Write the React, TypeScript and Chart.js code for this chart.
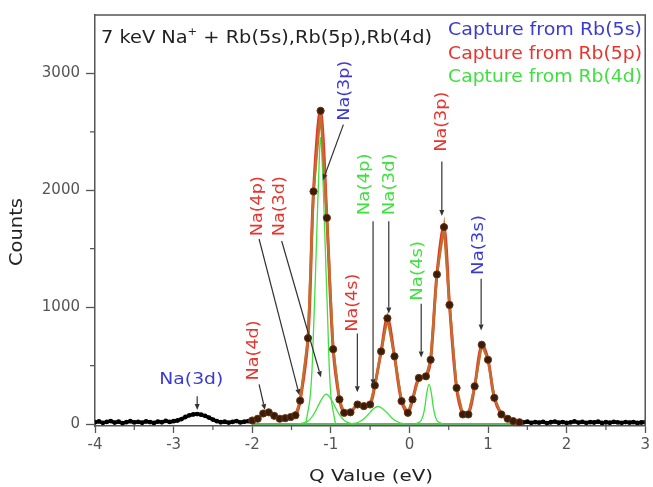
import React, { useEffect, useRef } from 'react';
import { Chart, registerables } from 'chart.js';
Chart.register(...registerables);

// ---- data (Q value in eV, counts) ----
const noiseLeftX = [-4.0, -3.95, -3.9, -3.85, -3.8, -3.75, -3.7, -3.65, -3.6, -3.55, -3.5, -3.45, -3.4, -3.35, -3.3, -3.25, -3.2, -3.15, -3.1, -3.05, -3.0, -2.95, -2.9, -2.85, -2.8, -2.75, -2.7, -2.65, -2.6, -2.55, -2.5, -2.45, -2.4, -2.35, -2.3, -2.25, -2.2, -2.15, -2.1, -2.05];
const noiseLeftY = [15, 22, 10, 18, 25, 12, 20, 8, 16, 24, 14, 19, 11, 22, 17, 9, 21, 15, 26, 18, 24, 30, 42, 60, 74, 82, 85, 80, 70, 55, 38, 24, 15, 20, 12, 18, 25, 14, 20, 24];

const dataX = [-2.0, -1.93, -1.86, -1.79, -1.72, -1.65, -1.58, -1.51, -1.45, -1.39, -1.29, -1.22, -1.13, -1.05, -0.97, -0.89, -0.83, -0.75, -0.66, -0.58, -0.5, -0.44, -0.36, -0.28, -0.19, -0.1, -0.02, 0.04, 0.12, 0.21, 0.27, 0.35, 0.44, 0.51, 0.6, 0.68, 0.75, 0.83, 0.92, 1.0, 1.08, 1.17, 1.25, 1.32, 1.4];
const dataY = [30, 45, 90, 100, 70, 45, 50, 60, 75, 200, 735, 1990, 2680, 1764, 640, 210, 96, 100, 167, 153, 167, 330, 621, 905, 579, 196, 96, 210, 394, 408, 550, 1280, 1685, 1019, 309, 82, 82, 323, 678, 550, 224, 82, 45, 25, 15];

const noiseRightX = [1.45, 1.5, 1.55, 1.6, 1.65, 1.7, 1.75, 1.8, 1.85, 1.9, 1.95, 2.0, 2.05, 2.1, 2.15, 2.2, 2.25, 2.3, 2.35, 2.4, 2.45, 2.5, 2.55, 2.6, 2.65, 2.7, 2.75, 2.8, 2.85, 2.9, 2.95, 3.0];
const noiseRightY = [14, 20, 10, 16, 12, 19, 8, 15, 21, 11, 17, 9, 14, 22, 12, 18, 10, 16, 13, 20, 9, 15, 11, 18, 14, 10, 17, 12, 16, 9, 13, 15];

// Rb(4d) capture components (green)
const g1X = [-1.32, -1.26, -1.22, -1.18, -1.15, -1.13, -1.11, -1.08, -1.04, -1.0, -0.94];
const g1Y = [0, 250, 800, 1600, 2200, 2450, 2250, 1700, 900, 250, 0];
const g2X = [-1.42, -1.3, -1.22, -1.15, -1.1, -1.06, -1.02, -0.97, -0.9, -0.82, -0.72];
const g2Y = [0, 20, 80, 170, 230, 255, 235, 180, 90, 25, 0];
const g3X = [-0.75, -0.65, -0.57, -0.5, -0.45, -0.4, -0.35, -0.29, -0.22, -0.14, -0.05];
const g3Y = [0, 15, 50, 100, 135, 150, 135, 100, 50, 15, 0];
const g4X = [0.08, 0.15, 0.19, 0.22, 0.25, 0.28, 0.31, 0.35, 0.42];
const g4Y = [0, 30, 120, 260, 340, 260, 120, 30, 0];
const baseX = [-2.0, 1.4];
const baseY = [0, 0];

const xTicks = [-4, -3, -2, -1, 0, 1, 2, 3];
const yTicks = [0, 1000, 2000, 3000];
const xMinorTicks = [-3.5, -2.5, -1.5, -0.5, 0.5, 1.5, 2.5];
const yMinorTicks = [500, 1500, 2500];

const BLUE = '#3b3bd0';
const RED = '#e8342c';
const GREEN = '#3fe03f';

// annotations (data coordinates)
const notes = [
  { t: 'Na(3p)', c: BLUE, x: -0.8125, y: 2852, rot: true, len: 60, a: [-0.84, 2562, -1.1, 2085] },
  { t: 'Na(4p)', c: RED, x: -1.925, y: 1864, rot: true, len: 60, a: [-1.9125, 1583, -1.4, 247] },
  { t: 'Na(3d)', c: RED, x: -1.65, y: 1864, rot: true, len: 60, a: [-1.625, 1566, -1.125, 400] },
  { t: 'Na(4d)', c: RED, x: -1.975, y: 630, rot: true, len: 60, a: [-1.9125, 340, -1.8375, 119] },
  { t: 'Na(3d)', c: BLUE, x: -2.775, y: 374, rot: false, len: 64, a: [-2.7, 238, -2.7, 119] },
  { t: 'Na(4s)', c: RED, x: -0.7125, y: 1038, rot: true, len: 58, a: [-0.6625, 774, -0.6625, 272] },
  { t: 'Na(4p)', c: GREEN, x: -0.5625, y: 2051, rot: true, len: 62, a: [-0.4625, 1736, -0.4625, 332] },
  { t: 'Na(3d)', c: GREEN, x: -0.25, y: 2051, rot: true, len: 62, a: [-0.2625, 1736, -0.2625, 945] },
  { t: 'Na(4s)', c: GREEN, x: 0.1125, y: 1311, rot: true, len: 60, a: [0.15, 1030, 0.15, 570] },
  { t: 'Na(3p)', c: RED, x: 0.4125, y: 2587, rot: true, len: 60, a: [0.4125, 2247, 0.4125, 1779] },
  { t: 'Na(3s)', c: BLUE, x: 0.8875, y: 1532, rot: true, len: 60, a: [0.9125, 1243, 0.9125, 800] },
];

const legendLines = [
  { t: 'Capture from Rb(5s)', c: BLUE },
  { t: 'Capture from Rb(5p)', c: RED },
  { t: 'Capture from Rb(4d)', c: GREEN },
];

const FONT = '"DejaVu Sans", "Liberation Sans", Arial, sans-serif';

const pts = (xs: number[], ys: number[]) => xs.map((x, i) => ({ x, y: ys[i] }));

function drawFit(ctx: CanvasRenderingContext2D, text: string, cx: number, cy: number, rot: boolean, size: number, len: number, color: string) {
  ctx.save();
  ctx.font = `${size}px ${FONT}`;
  const w = ctx.measureText(text).width;
  ctx.translate(cx, cy);
  if (rot) ctx.rotate(-Math.PI / 2);
  ctx.scale(len / w, 1);
  ctx.fillStyle = color;
  ctx.textAlign = 'center';
  ctx.textBaseline = 'middle';
  ctx.fillText(text, 0, 0);
  ctx.restore();
}

function arrow(ctx: CanvasRenderingContext2D, x1: number, y1: number, x2: number, y2: number) {
  ctx.save();
  ctx.strokeStyle = '#333';
  ctx.fillStyle = '#333';
  ctx.lineWidth = 1.2;
  const ang = Math.atan2(y2 - y1, x2 - x1);
  const hl = 6;
  const bx = x2 - hl * Math.cos(ang);
  const by = y2 - hl * Math.sin(ang);
  ctx.beginPath();
  ctx.moveTo(x1, y1);
  ctx.lineTo(bx, by);
  ctx.stroke();
  ctx.beginPath();
  ctx.moveTo(x2, y2);
  ctx.lineTo(bx + 2.5 * Math.sin(ang), by - 2.5 * Math.cos(ang));
  ctx.lineTo(bx - 2.5 * Math.sin(ang), by + 2.5 * Math.cos(ang));
  ctx.closePath();
  ctx.fill();
  ctx.restore();
}

const overlay = {
  id: 'overlay',
  afterDraw(chart: any) {
    const ctx: CanvasRenderingContext2D = chart.ctx;
    const { left, right, top, bottom } = chart.chartArea;
    const xs = chart.scales.x;
    const ys = chart.scales.y;
    // frame top / right
    ctx.save();
    ctx.strokeStyle = '#555';
    ctx.lineWidth = 1.5;
    ctx.beginPath();
    ctx.moveTo(left, top);
    ctx.lineTo(right, top);
    ctx.lineTo(right, bottom);
    ctx.stroke();
    // minor ticks
    ctx.lineWidth = 1.2;
    ctx.beginPath();
    xMinorTicks.forEach((v) => {
      const px = xs.getPixelForValue(v);
      ctx.moveTo(px, bottom);
      ctx.lineTo(px, bottom + 4);
    });
    yMinorTicks.forEach((v) => {
      const py = ys.getPixelForValue(v);
      ctx.moveTo(left, py);
      ctx.lineTo(left - 5, py);
    });
    ctx.stroke();
    ctx.restore();

    // annotations
    notes.forEach((n) => {
      arrow(ctx, xs.getPixelForValue(n.a[0]), ys.getPixelForValue(n.a[1]), xs.getPixelForValue(n.a[2]), ys.getPixelForValue(n.a[3]));
      drawFit(ctx, n.t, xs.getPixelForValue(n.x), ys.getPixelForValue(n.y), n.rot, 15, n.len, n.c);
    });

    // title with superscript
    ctx.save();
    const p1 = '7 keV Na';
    const p2 = '+';
    const p3 = ' + Rb(5s),Rb(5p),Rb(4d)';
    ctx.font = `17px ${FONT}`;
    const w1 = ctx.measureText(p1).width;
    const w3 = ctx.measureText(p3).width;
    ctx.font = `10px ${FONT}`;
    const w2 = ctx.measureText(p2).width;
    const s = 331 / (w1 + w2 + w3);
    ctx.translate(left + 6, top + 28);
    ctx.scale(s, 1);
    ctx.fillStyle = '#222';
    ctx.textBaseline = 'alphabetic';
    ctx.font = `17px ${FONT}`;
    ctx.fillText(p1, 0, 0);
    ctx.font = `10px ${FONT}`;
    ctx.fillText(p2, w1, -8);
    ctx.font = `17px ${FONT}`;
    ctx.fillText(p3, w1 + w2, 0);
    ctx.restore();

    // legend text
    legendLines.forEach((l, i) => {
      ctx.save();
      ctx.font = `17px ${FONT}`;
      const w = ctx.measureText(l.t).width;
      ctx.translate(448, top + 20 + i * 23.5);
      ctx.scale(194 / w, 1);
      ctx.fillStyle = l.c;
      ctx.textBaseline = 'alphabetic';
      ctx.fillText(l.t, 0, 0);
      ctx.restore();
    });

    // axis titles
    drawFit(ctx, 'Counts', 18, 232, true, 17, 68, '#222');
    drawFit(ctx, 'Q Value (eV)', (left + right) / 2 + 1, 477, false, 16, 124, '#222');
  },
};

export default function App() {
  const ref = useRef<HTMLCanvasElement>(null);
  useEffect(() => {
    if (!ref.current) return;
    const greenDs = (xs: number[], ys: number[], order: number) => ({
      data: pts(xs, ys),
      borderColor: GREEN,
      borderWidth: 1.3,
      pointRadius: 0,
      tension: 0.4,
      fill: false,
      order,
    });
    const chart = new Chart(ref.current, {
      type: 'line',
      data: {
        datasets: [
          {
            data: pts(dataX, dataY),
            borderColor: '#c0702e',
            borderWidth: 2.5,
            pointRadius: 3.6,
            pointBackgroundColor: '#3a1c0a',
            pointBorderColor: '#6b3410',
            pointBorderWidth: 1,
            tension: 0,
            order: 1,
          },
          {
            data: pts(noiseLeftX, noiseLeftY),
            borderColor: '#000',
            borderWidth: 3.5,
            pointRadius: 2.4,
            pointBackgroundColor: '#000',
            pointBorderWidth: 0,
            order: 2,
          },
          {
            data: pts(noiseRightX, noiseRightY),
            borderColor: '#000',
            borderWidth: 3.5,
            pointRadius: 2.4,
            pointBackgroundColor: '#000',
            pointBorderWidth: 0,
            order: 2,
          },
          {
            data: pts(dataX, dataY),
            borderColor: RED,
            borderWidth: 3,
            pointRadius: 0,
            tension: 0.35,
            order: 3,
          },
          greenDs(g1X, g1Y, 4),
          greenDs(g2X, g2Y, 4),
          greenDs(g3X, g3Y, 4),
          greenDs(g4X, g4Y, 4),
          {
            data: pts(baseX, baseY),
            borderColor: '#2e9a2e',
            borderWidth: 1.5,
            pointRadius: 0,
            order: 5,
          },
        ] as any,
      },
      options: {
        animation: false,
        responsive: false,
        events: [],
        layout: { padding: { top: 13, right: 0, left: 0, bottom: 0 }, autoPadding: false } as any,
        plugins: { legend: { display: false }, tooltip: { enabled: false } },
        scales: {
          x: {
            type: 'linear',
            min: -4,
            max: 3,
            afterBuildTicks: (s: any) => { s.ticks = xTicks.map((v) => ({ value: v })); },
            ticks: { color: '#555', font: { family: FONT, size: 15 }, padding: 3, maxRotation: 0, autoSkip: false, callback: (v: any) => String(v) },
            grid: { drawOnChartArea: false, drawTicks: true, tickLength: 7, tickColor: '#555', tickWidth: 1.3 },
            border: { color: '#555', width: 1.5 },
            afterFit: (s: any) => { s.height = 61; },
          },
          y: {
            type: 'linear',
            min: -17,
            max: 3500,
            afterBuildTicks: (s: any) => { s.ticks = yTicks.map((v) => ({ value: v })); },
            ticks: { color: '#555', font: { family: FONT, size: 15 }, padding: 6, autoSkip: false, callback: (v: any) => String(v) },
            grid: { drawOnChartArea: false, drawTicks: true, tickLength: 9, tickColor: '#555', tickWidth: 1.3 },
            border: { color: '#555', width: 1.5 },
            afterFit: (s: any) => { s.width = 95; },
          },
        } as any,
      },
      plugins: [overlay],
    });
    return () => chart.destroy();
  }, []);
  return (
    <div style={{ position: 'fixed', left: 0, top: 0, width: 653, height: 487, background: '#fff' }}>
      <canvas ref={ref} width={653} height={487} />
    </div>
  );
}
